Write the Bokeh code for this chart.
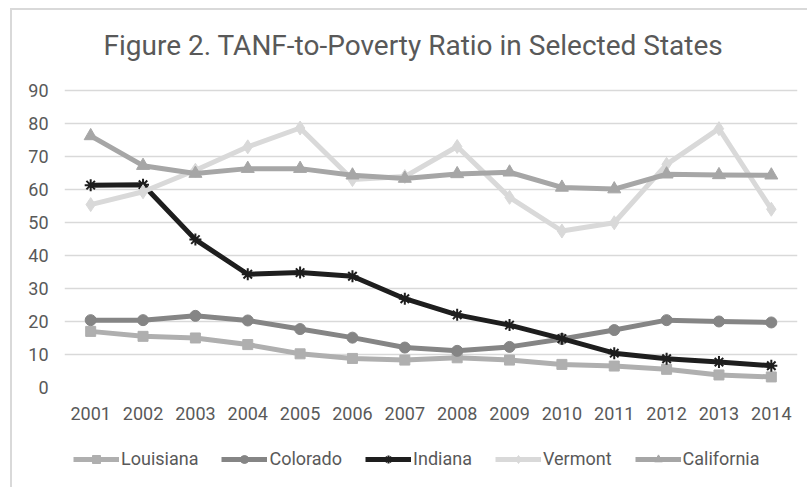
from bokeh.plotting import figure
from bokeh.layouts import column
from bokeh.models import FactorRange, Range1d, FixedTicker, Legend, LegendItem, Title
from bokeh.embed import file_html
from bokeh.resources import INLINE

# TANF-to-poverty ratio by state, 2001-2014
years = [str(y) for y in range(2001, 2015)]
louisiana = [17.0, 15.5, 15.0, 13.0, 10.2, 8.8, 8.3, 9.0, 8.3, 7.0, 6.5, 5.5, 3.8, 3.2]
colorado = [20.4, 20.4, 21.7, 20.3, 17.7, 15.1, 12.1, 11.1, 12.3, 14.7, 17.4, 20.4, 20.0, 19.7]
indiana = [61.3, 61.4, 44.8, 34.3, 34.8, 33.7, 26.9, 22.0, 18.9, 14.8, 10.4, 8.7, 7.7, 6.6]
vermont = [55.4, 59.3, 65.8, 72.9, 78.6, 63.0, 63.9, 73.0, 57.6, 47.4, 49.9, 67.6, 78.4, 54.0]
california = [76.2, 67.2, 64.8, 66.3, 66.3, 64.3, 63.3, 64.7, 65.2, 60.6, 60.1, 64.6, 64.4, 64.3]
y_ticks = [0, 10, 20, 30, 40, 50, 60, 70, 80, 90]
chart_title = "Figure 2. TANF-to-Poverty Ratio in Selected States"

FONT = "Roboto"
TEXT = "#595959"
GRID = "#d9d9d9"

# main chart; the value axis keeps a little headroom above the 90 gridline
p = figure(width=795, height=420, output_backend="svg", toolbar_location=None,
           x_range=FactorRange(*years, range_padding=0),
           y_range=Range1d(0, 93.6),
           min_border_left=52, min_border_right=10,
           min_border_top=68, min_border_bottom=43)
p.outline_line_color = None
p.background_fill_color = "white"
p.border_fill_color = "white"

p.add_layout(Title(text=chart_title, align="left", offset=39, standoff=33,
                   text_font=FONT, text_font_size="28px", text_font_style="normal",
                   text_color=TEXT), "above")

# axes without lines or ticks; the zero gridline serves as the baseline
for ax in (p.xaxis[0], p.yaxis[0]):
    ax.axis_line_color = None
    ax.major_tick_line_color = None
    ax.minor_tick_line_color = None
    ax.major_tick_in = 0
    ax.major_tick_out = 0
    ax.major_label_text_font = FONT
    ax.major_label_text_font_size = "18px"
    ax.major_label_text_color = TEXT
p.yaxis[0].ticker = FixedTicker(ticks=y_ticks)
p.yaxis[0].major_label_standoff = 16
p.xaxis[0].major_label_standoff = 19

p.xgrid.grid_line_color = None
p.ygrid.grid_line_color = GRID
p.ygrid.grid_line_width = 1.5

series = [
    ("Louisiana", louisiana, "#afafaf", "square", 10, 1),
    ("Colorado", colorado, "#858585", "circle", 11, 1),
    ("Indiana", indiana, "#1e1e1e", "asterisk", 12, 2),
    ("Vermont", vermont, "#d9d9d9", "diamond", 14, 1),
    ("California", california, "#a6a6a6", "triangle", 13, 1),
]

for name, vals, color, marker, size, mlw in series:
    p.line(years, vals, line_color=color, line_width=5, line_join="round")
    p.scatter(years, vals, marker=marker, size=size, fill_color=color,
              line_color=color, line_width=mlw)

# legend row: key glyphs sit outside its visible range
lf = figure(width=795, height=57, output_backend="svg", toolbar_location=None,
            x_range=Range1d(0, 1), y_range=Range1d(0, 1),
            x_axis_type=None, y_axis_type=None,
            min_border_left=0, min_border_right=0,
            min_border_top=0, min_border_bottom=0)
lf.outline_line_color = None
lf.xgrid.visible = False
lf.ygrid.visible = False

items = []
for name, vals, color, marker, size, mlw in series:
    ln = lf.line([-2, -1], [-2, -2], line_color=color, line_width=5)
    sc = lf.scatter([-1.5], [-2], marker=marker, size=size, fill_color=color,
                    line_color=color, line_width=mlw)
    items.append(LegendItem(label=name, renderers=[ln, sc]))

legend = Legend(items=items, orientation="horizontal", location=(9, 18),
                glyph_width=46, glyph_height=20, label_standoff=2, spacing=23,
                padding=0, margin=0, border_line_color=None,
                background_fill_alpha=0,
                label_text_font=FONT, label_text_font_size="18px",
                label_text_color=TEXT)
lf.add_layout(legend, "center")

layout = column(p, lf, spacing=0,
                styles={"margin-left": "10px", "margin-top": "8px",
                        "border-left": "2px solid #d9d9d9",
                        "border-top": "2px solid #d9d9d9"})

open("out.html", "w").write(file_html(layout, INLINE))
